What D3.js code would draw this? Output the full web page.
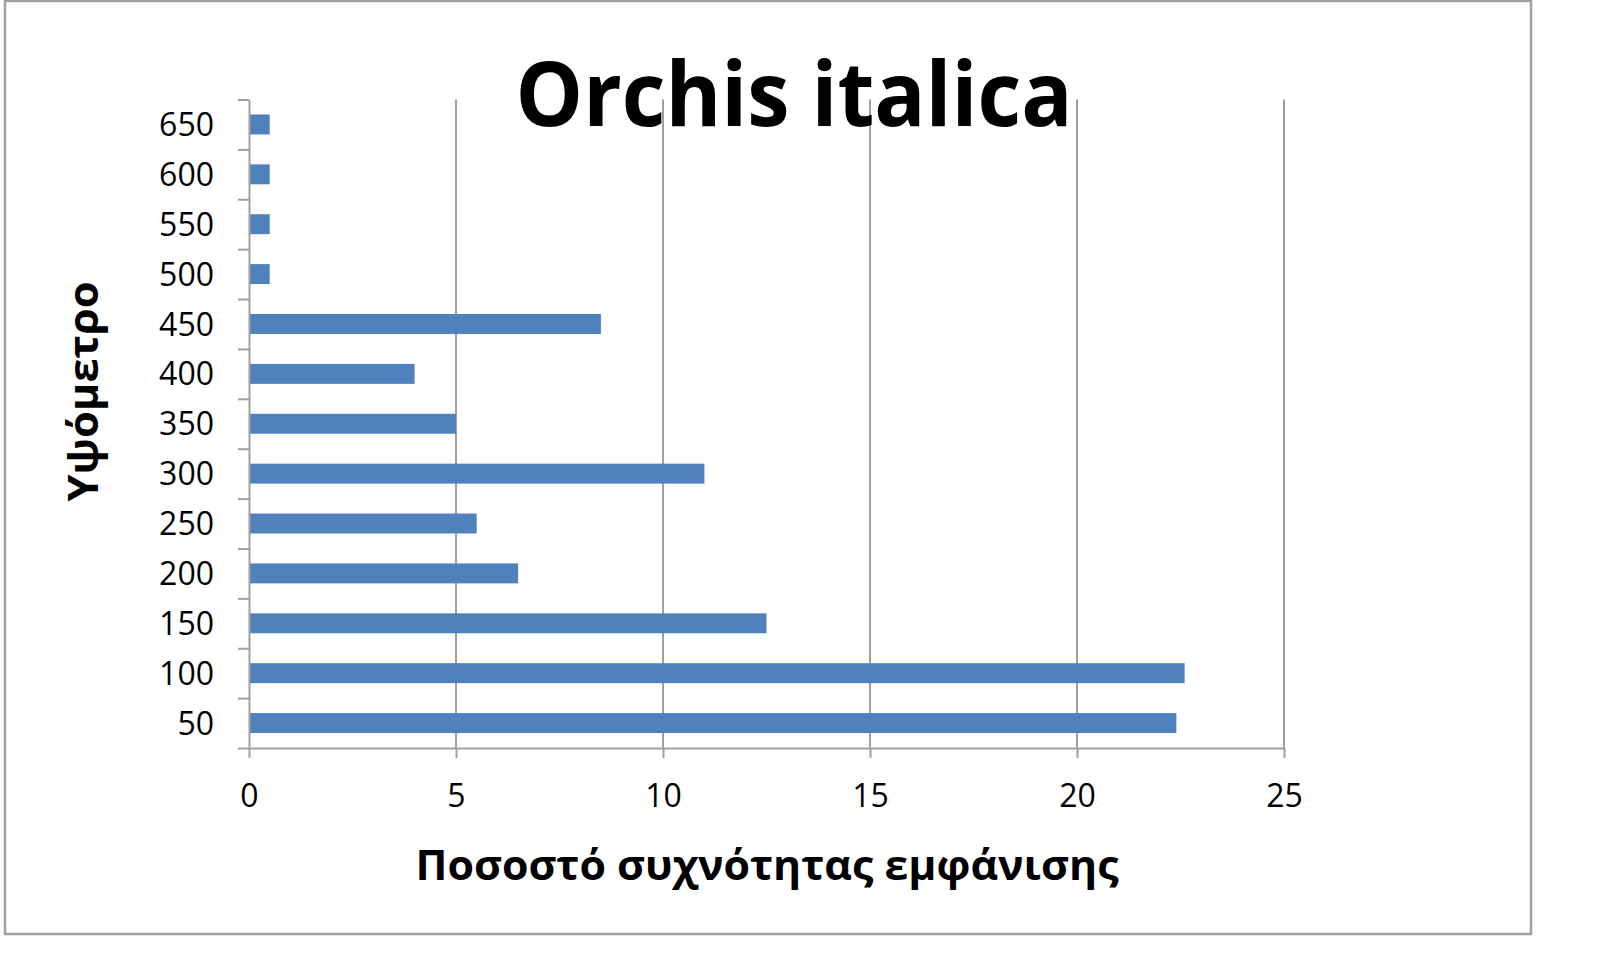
<!DOCTYPE html>
<html>
<head>
<meta charset="utf-8">
<script src="https://cdn.jsdelivr.net/npm/d3@7"></script>
<style>
  body { margin: 0; background: #fff; }
  svg { display: block; }
  svg text { font-family: "Open Sans", sans-serif; }
  .axis path, .axis line { stroke: #a0a0a0; stroke-width: 2; }
</style>
</head>
<body>
<div id="container"></div>
<script>
// altitude classes (m) and frequency of occurrence (%)
const altitudes = ["50", "100", "150", "200", "250", "300", "350", "400", "450", "500", "550", "600", "650"];
const frequency = [22.4, 22.6, 12.5, 6.5, 5.5, 11, 5, 4, 8.5, 0.5, 0.5, 0.5, 0.5];
const xTicks = [0, 5, 10, 15, 20, 25];

const chartTitle = "Orchis italica";
const xTitle = "Ποσοστό συχνότητας εμφάνισης";
const yTitle = "Υψόμετρο";

const width = 1600;
const height = 959;
const plot = { left: 249, right: 1284, top: 99.5, bottom: 748 };

const svg = d3.select("#container").append("svg")
    .attr("width", width)
    .attr("height", height);

// chart border
svg.append("rect")
    .attr("x", 5).attr("y", 1)
    .attr("width", 1526).attr("height", 933)
    .attr("fill", "#fff")
    .attr("stroke", "#a0a0a0")
    .attr("stroke-width", 2.5);

//----------------------------SCALES-----------------------------//
const x = d3.scaleLinear().domain([0, 25]).range([plot.left, plot.right]);

const y = d3.scaleBand()
    .domain(altitudes)
    .range([plot.bottom, plot.top])
    .paddingInner(0.6)
    .paddingOuter(0.3);

// band boundaries for the tick marks
const yEdge = d3.scaleLinear().domain([0, altitudes.length]).range([plot.bottom, plot.top]);

//----------------------------GRID-------------------------------//
svg.append("g")
    .selectAll("line")
    .data(xTicks.slice(1))
    .enter()
    .append("line")
    .attr("x1", d => x(d)).attr("x2", d => x(d))
    .attr("y1", plot.top).attr("y2", plot.bottom)
    .attr("stroke", "#a0a0a0")
    .attr("stroke-width", 2);

//----------------------------BARS-------------------------------//
svg.append("g")
    .selectAll("rect")
    .data(altitudes)
    .enter()
    .append("rect")
    .attr("x", x(0))
    .attr("y", d => y(d))
    .attr("width", (d, i) => x(frequency[i]) - x(0))
    .attr("height", y.bandwidth())
    .attr("fill", "#4f81bd");

//----------------------------AXES-------------------------------//
const xAxis = svg.append("g")
    .attr("class", "axis")
    .attr("transform", "translate(0," + plot.bottom + ")")
    .call(d3.axisBottom(x).tickValues(xTicks).tickSize(10).tickSizeOuter(0))
    .attr("font-family", null);
xAxis.selectAll("text")
    .attr("y", 59).attr("dy", 0)
    .attr("fill", "#000")
    .style("font-size", "32px");

svg.append("g")
    .attr("class", "axis")
    .attr("transform", "translate(" + plot.left + ",0)")
    .call(d3.axisLeft(yEdge).tickValues(d3.range(altitudes.length + 1)).tickFormat("").tickSize(11).tickSizeOuter(0));

const yLabels = svg.append("g")
    .attr("transform", "translate(" + plot.left + ",0)")
    .call(d3.axisLeft(y).tickSize(0).tickPadding(35))
    .attr("font-family", null);
yLabels.select(".domain").remove();
yLabels.selectAll("text")
    .attr("fill", "#000")
    .attr("dy", "0.36em")
    .style("font-size", "32px");

//----------------------------TITLES-----------------------------//
svg.append("text")
    .attr("x", 794).attr("y", 126)
    .attr("text-anchor", "middle")
    .attr("textLength", 557)
    .attr("lengthAdjust", "spacingAndGlyphs")
    .style("font-size", "89px")
    .style("font-weight", "bold")
    .text(chartTitle);

svg.append("text")
    .attr("x", 767).attr("y", 880)
    .attr("text-anchor", "middle")
    .attr("textLength", 703)
    .attr("lengthAdjust", "spacingAndGlyphs")
    .style("font-size", "42px")
    .style("font-weight", "bold")
    .text(xTitle);

svg.append("text")
    .attr("transform", "translate(98,391.5) rotate(-90)")
    .attr("text-anchor", "middle")
    .attr("textLength", 220)
    .attr("lengthAdjust", "spacingAndGlyphs")
    .style("font-size", "42px")
    .style("font-weight", "bold")
    .text(yTitle);
</script>
</body>
</html>
